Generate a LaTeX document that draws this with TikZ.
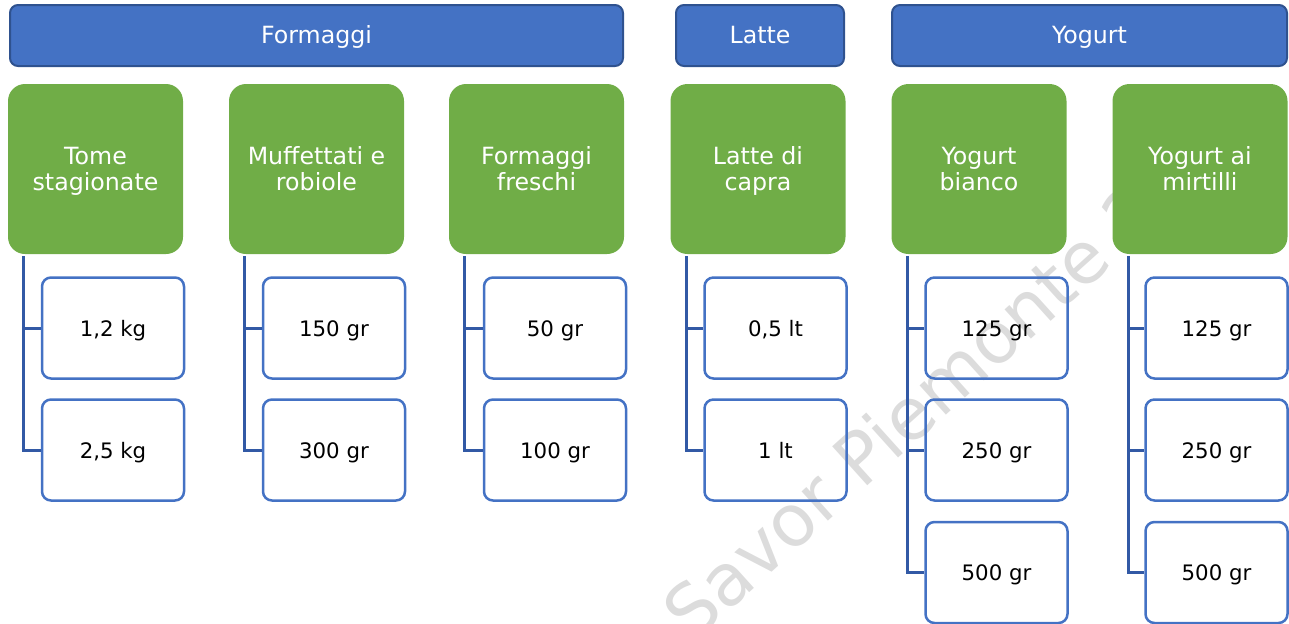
\documentclass[tikz,border=0pt]{standalone}
\usepackage{fontspec}
\setmainfont{DejaVu Sans}
\usetikzlibrary{positioning}

\definecolor{bluhead}{HTML}{4472C4}
\definecolor{bluedge}{HTML}{2F528F}
\definecolor{verde}{HTML}{70AD47}
\definecolor{linea}{HTML}{3259A5}
\definecolor{filigrana}{HTML}{DCDCDC}

\tikzset{
  categoria/.style={draw=bluedge, line width=1pt, fill=bluhead, rounded corners=4pt,
    text=white, minimum height=30.5pt, inner sep=0pt, text height=10pt, text depth=2.2pt,
    font=\fontsize{11.85}{13}\selectfont},
  prodotto/.style={fill=verde, rounded corners=8.5pt, text=white, minimum width=87.5pt,
    minimum height=85pt, align=center, inner sep=0pt, text height=24pt, text depth=3pt,
    font=\fontsize{11.85}{13}\selectfont},
  formato/.style={draw=bluhead, line width=1.25pt, rounded corners=4.5pt, minimum width=71pt,
    minimum height=50.5pt, inner sep=0pt, text height=9.5pt, text depth=1.5pt,
    font=\fontsize{10.65}{12}\selectfont},
  ramo/.style={draw=linea, line width=1.5pt},
}

\begin{document}
\begin{tikzpicture}[x=0.5pt,y=-0.5pt]
  \useasboundingbox (0,0) rectangle (1289,623);

  % Filigrana sullo sfondo
  \node[anchor=base west, rotate=42, text=filigrana, inner sep=0pt,
    font=\fontsize{36}{40}\selectfont] (marchio) at (692,644) {Savor Piemonte 2020};

  % Categorie principali
  \node[categoria, minimum width=306.5pt] (formaggi) at (316.5,35.5) {Formaggi};
  \node[categoria, minimum width=84pt] (latte) at (760,35.5) {Latte};
  \node[categoria, minimum width=197.5pt] (yogurt) at (1089.5,35.5) {Yogurt};

  % Prodotti
  \node[prodotto] (tome) at (95.5,169) {Tome\\stagionate};
  \node[prodotto] (muff) at (316.5,169) {Muffettati e\\robiole};
  \node[prodotto] (freschi) at (536.5,169) {Formaggi\\freschi};
  \node[prodotto] (capra) at (758,169) {Latte di\\capra};
  \node[prodotto] (bianco) at (979,169) {Yogurt\\bianco};
  \node[prodotto] (mirtilli) at (1200,169) {Yogurt ai\\mirtilli};

  % Formati
  \node[formato] (tome1) at (113,328) {1,2 kg};
  \node[formato] (tome2) at (113,450) {2,5 kg};
  \node[formato] (muff1) at (334,328) {150 gr};
  \node[formato] (muff2) at (334,450) {300 gr};
  \node[formato] (freschi1) at (555,328) {50 gr};
  \node[formato] (freschi2) at (555,450) {100 gr};
  \node[formato] (capra1) at (775.5,328) {0,5 lt};
  \node[formato] (capra2) at (775.5,450) {1 lt};
  \node[formato] (bianco1) at (996.5,328) {125 gr};
  \node[formato] (bianco2) at (996.5,450) {250 gr};
  \node[formato] (bianco3) at (996.5,572.5) {500 gr};
  \node[formato] (mirtilli1) at (1216.5,328) {125 gr};
  \node[formato] (mirtilli2) at (1216.5,450) {250 gr};
  \node[formato] (mirtilli3) at (1216.5,572.5) {500 gr};

  % Rami verso i formati
  \draw[ramo] ([xshift=8pt,yshift=-1pt]tome.south west) |- (tome1.west);
  \draw[ramo] ([xshift=8pt,yshift=-1pt]tome.south west) |- (tome2.west);
  \draw[ramo] ([xshift=8pt,yshift=-1pt]muff.south west) |- (muff1.west);
  \draw[ramo] ([xshift=8pt,yshift=-1pt]muff.south west) |- (muff2.west);
  \draw[ramo] ([xshift=8pt,yshift=-1pt]freschi.south west) |- (freschi1.west);
  \draw[ramo] ([xshift=8pt,yshift=-1pt]freschi.south west) |- (freschi2.west);
  \draw[ramo] ([xshift=8pt,yshift=-1pt]capra.south west) |- (capra1.west);
  \draw[ramo] ([xshift=8pt,yshift=-1pt]capra.south west) |- (capra2.west);
  \draw[ramo] ([xshift=8pt,yshift=-1pt]bianco.south west) |- (bianco1.west);
  \draw[ramo] ([xshift=8pt,yshift=-1pt]bianco.south west) |- (bianco2.west);
  \draw[ramo] ([xshift=8pt,yshift=-1pt]bianco.south west) |- (bianco3.west);
  \draw[ramo] ([xshift=8pt,yshift=-1pt]mirtilli.south west) |- (mirtilli1.west);
  \draw[ramo] ([xshift=8pt,yshift=-1pt]mirtilli.south west) |- (mirtilli2.west);
  \draw[ramo] ([xshift=8pt,yshift=-1pt]mirtilli.south west) |- (mirtilli3.west);

\end{tikzpicture}
\end{document}
